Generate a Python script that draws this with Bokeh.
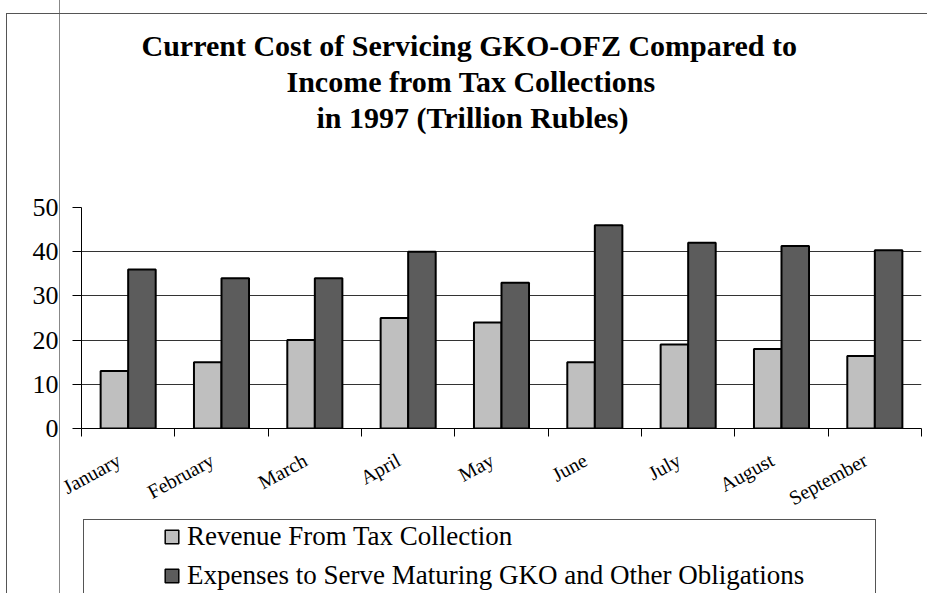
from bokeh.plotting import figure
from bokeh.models import (Range1d, FixedTicker, Title, Legend, LegendItem,
                          ColumnDataSource)
from bokeh.layouts import column
from bokeh.transform import dodge
from bokeh.embed import file_html
from bokeh.resources import INLINE

# ---------------- data ----------------
months = ["January", "February", "March", "April", "May",
          "June", "July", "August", "September"]
revenue = [13, 15, 20, 25, 24, 15, 19, 18, 16.4]
expenses = [36, 34, 34, 40, 33, 46, 42, 41.3, 40.3]
series_names = ["Revenue From Tax Collection",
                "Expenses to Serve Maturing GKO and Other Obligations"]
title_lines = ["Current Cost of Servicing GKO-OFZ Compared to",
               "Income from Tax Collections",
               "in 1997 (Trillion Rubles)"]
y_ticks = [0, 10, 20, 30, 40, 50]
grid_ticks = [10, 20, 30, 40]

FONT = "Liberation Serif"
LIGHT = "#bfbfbf"
DARK = "#5c5c5c"

pos = [i + 0.5 for i in range(len(months))]
label_pos = [i + 0.4 for i in range(len(months))]   # rotated labels sit a little left of centre
boundaries = list(range(len(months) + 1))
src = ColumnDataSource(dict(pos=pos, month=months, revenue=revenue, expenses=expenses))

# ---------------- main chart ----------------
p = figure(width=927, height=521, x_range=Range1d(0, len(months)),
           y_range=Range1d(y_ticks[0], y_ticks[-1]),
           output_backend="svg", toolbar_location=None,
           min_border_left=81, min_border_right=6, min_border_top=207,
           min_border_bottom=87, outline_line_color=None,
           background_fill_color=None, border_fill_color=None)

# titles: spacer first (closest to frame), then lines bottom-up
p.add_layout(Title(text=" ", text_font=FONT, text_font_size="30px", standoff=38), "above")
title_offsets = [60, 205, 235]
for line, off in reversed(list(zip(title_lines, title_offsets))):
    t = Title(text=line, align="left", offset=off, text_font=FONT,
              text_font_size="30px", text_font_style="bold", text_color="black",
              standoff=1)
    p.add_layout(t, "above")

bw = 0.295
r1 = p.vbar(x=dodge("pos", -bw / 2, range=p.x_range), top="revenue", width=bw,
            source=src, fill_color=LIGHT, line_color="black", line_width=2)
r2 = p.vbar(x=dodge("pos", bw / 2, range=p.x_range), top="expenses", width=bw,
            source=src, fill_color=DARK, line_color="black", line_width=2)

# x axis: labels near category centres, ticks at category boundaries
xa = p.xaxis[0]
xa.ticker = FixedTicker(ticks=label_pos, minor_ticks=boundaries)
xa.major_label_overrides = {label_pos[i]: months[i] for i in range(len(months))}
xa.major_tick_out = 0
xa.major_tick_in = 0
xa.minor_tick_out = 8
xa.minor_tick_in = 0
xa.minor_tick_line_color = "black"
xa.axis_line_color = "black"
xa.major_label_orientation = 0.5
xa.major_label_text_font = FONT
xa.major_label_text_font_size = "20px"
xa.major_label_text_color = "black"
xa.major_label_standoff = 22

ya = p.yaxis[0]
ya.ticker = FixedTicker(ticks=y_ticks, minor_ticks=[])
ya.major_tick_out = 9
ya.major_tick_in = 0
ya.major_tick_line_color = "black"
ya.axis_line_color = "black"
ya.major_label_text_font = FONT
ya.major_label_text_font_size = "26px"
ya.major_label_text_color = "black"
ya.major_label_standoff = 14

p.xgrid.visible = False
p.ygrid.ticker = FixedTicker(ticks=grid_ticks)
p.ygrid.grid_line_color = "#333333"
p.ygrid.grid_line_width = 1

# ---------------- legend panel (same side borders as the chart) ----------------
q = figure(width=927, height=72, x_range=Range1d(0, 1), y_range=Range1d(0, 1),
           x_axis_type=None, y_axis_type=None,
           output_backend="svg", toolbar_location=None,
           min_border_left=81, min_border_right=6, min_border_top=0,
           min_border_bottom=0, outline_line_color=None,
           background_fill_color=None, border_fill_color=None)
q.grid.visible = False
# hidden copies of the series: they only supply the legend swatches
d1 = q.vbar(x="pos", top="revenue", width=bw, source=src, fill_color=LIGHT,
            line_color="black", line_width=1.5, visible=False)
d2 = q.vbar(x="pos", top="expenses", width=bw, source=src, fill_color=DARK,
            line_color="black", line_width=1.5, visible=False)

legend = Legend(items=[LegendItem(label=series_names[0], renderers=[d1]),
                       LegendItem(label=series_names[1], renderers=[d2])],
                location=(82, 2), border_line_color=None, background_fill_alpha=0,
                inactive_fill_alpha=0,
                padding=0, spacing=8, glyph_width=17, glyph_height=17,
                label_height=20, label_standoff=7,
                label_text_font=FONT, label_text_font_size="27px",
                label_text_color="black")
q.add_layout(legend)

# page frame lines and the open-bottomed legend box
frame_css = {
    "background-color": "white",
    "background-image": ", ".join(["linear-gradient(#555,#555)"] * 5
                                  + ["linear-gradient(#888,#888)"]),
    "background-size": "921px 1px, 1px 580px, 793px 1px, 1px 75px, 1px 75px, 1px 593px",
    "background-position": "6px 13px, 6px 13px, 83px 519px, 83px 519px, 875px 519px, 59px 0px",
    "background-repeat": "no-repeat",
}
layout = column(p, q, spacing=0, styles=frame_css)
open("out.html", "w").write(file_html(layout, INLINE))
